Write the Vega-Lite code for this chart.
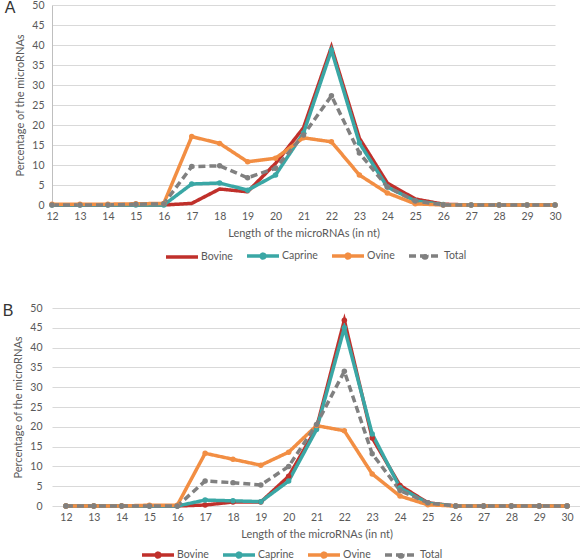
{
  "$schema": "https://vega.github.io/schema/vega-lite/v6.json",
  "padding": {"left": 2, "top": 0, "right": 0, "bottom": 0},
  "spacing": 38,
  "config": {
    "font": "Lato",
    "view": {"stroke": null},
    "axis": {"labelFont": "Lato", "titleFont": "Lato", "labelColor": "#595959", "titleColor": "#595959", "labelFontSize": 10.5, "titleFontSize": 11, "titleFontWeight": "normal", "ticks": false, "gridColor": "#D9D9D9", "gridWidth": 1},
    "legend": {"labelFont": "Lato", "labelColor": "#595959", "labelFontSize": 10.5},
    "title": {"font": "Arial", "fontSize": 16, "fontWeight": "normal", "color": "#333333"}
  },
  "data": {"values": [
    {"p":"A","len":12,"species":"Bovine","pct":0},{"p":"A","len":13,"species":"Bovine","pct":0},{"p":"A","len":14,"species":"Bovine","pct":0},{"p":"A","len":15,"species":"Bovine","pct":0},{"p":"A","len":16,"species":"Bovine","pct":0},{"p":"A","len":17,"species":"Bovine","pct":0.4},{"p":"A","len":18,"species":"Bovine","pct":4},{"p":"A","len":19,"species":"Bovine","pct":3.3},{"p":"A","len":20,"species":"Bovine","pct":10.4},{"p":"A","len":21,"species":"Bovine","pct":19.3},{"p":"A","len":22,"species":"Bovine","pct":39.5},{"p":"A","len":23,"species":"Bovine","pct":16.7},{"p":"A","len":24,"species":"Bovine","pct":5.5},{"p":"A","len":25,"species":"Bovine","pct":1.5},{"p":"A","len":26,"species":"Bovine","pct":0.2},{"p":"A","len":27,"species":"Bovine","pct":0},{"p":"A","len":28,"species":"Bovine","pct":0},{"p":"A","len":29,"species":"Bovine","pct":0},{"p":"A","len":30,"species":"Bovine","pct":0},
    {"p":"A","len":12,"species":"Caprine","pct":0},{"p":"A","len":13,"species":"Caprine","pct":0},{"p":"A","len":14,"species":"Caprine","pct":0},{"p":"A","len":15,"species":"Caprine","pct":0},{"p":"A","len":16,"species":"Caprine","pct":0},{"p":"A","len":17,"species":"Caprine","pct":5.25},{"p":"A","len":18,"species":"Caprine","pct":5.5},{"p":"A","len":19,"species":"Caprine","pct":3.7},{"p":"A","len":20,"species":"Caprine","pct":7.5},{"p":"A","len":21,"species":"Caprine","pct":18},{"p":"A","len":22,"species":"Caprine","pct":38.7},{"p":"A","len":23,"species":"Caprine","pct":15.5},{"p":"A","len":24,"species":"Caprine","pct":4.5},{"p":"A","len":25,"species":"Caprine","pct":1},{"p":"A","len":26,"species":"Caprine","pct":0.1},{"p":"A","len":27,"species":"Caprine","pct":0},{"p":"A","len":28,"species":"Caprine","pct":0},{"p":"A","len":29,"species":"Caprine","pct":0},{"p":"A","len":30,"species":"Caprine","pct":0},
    {"p":"A","len":12,"species":"Ovine","pct":0.2},{"p":"A","len":13,"species":"Ovine","pct":0.2},{"p":"A","len":14,"species":"Ovine","pct":0.2},{"p":"A","len":15,"species":"Ovine","pct":0.3},{"p":"A","len":16,"species":"Ovine","pct":0.4},{"p":"A","len":17,"species":"Ovine","pct":17.1},{"p":"A","len":18,"species":"Ovine","pct":15.4},{"p":"A","len":19,"species":"Ovine","pct":10.8},{"p":"A","len":20,"species":"Ovine","pct":11.7},{"p":"A","len":21,"species":"Ovine","pct":16.8},{"p":"A","len":22,"species":"Ovine","pct":15.8},{"p":"A","len":23,"species":"Ovine","pct":7.5},{"p":"A","len":24,"species":"Ovine","pct":3},{"p":"A","len":25,"species":"Ovine","pct":0.3},{"p":"A","len":26,"species":"Ovine","pct":0},{"p":"A","len":27,"species":"Ovine","pct":0},{"p":"A","len":28,"species":"Ovine","pct":0},{"p":"A","len":29,"species":"Ovine","pct":0},{"p":"A","len":30,"species":"Ovine","pct":0},
    {"p":"A","len":12,"species":"Total","pct":0},{"p":"A","len":13,"species":"Total","pct":0},{"p":"A","len":14,"species":"Total","pct":0},{"p":"A","len":15,"species":"Total","pct":0.2},{"p":"A","len":16,"species":"Total","pct":0.3},{"p":"A","len":17,"species":"Total","pct":9.6},{"p":"A","len":18,"species":"Total","pct":9.8},{"p":"A","len":19,"species":"Total","pct":6.8},{"p":"A","len":20,"species":"Total","pct":9.2},{"p":"A","len":21,"species":"Total","pct":17.5},{"p":"A","len":22,"species":"Total","pct":27.3},{"p":"A","len":23,"species":"Total","pct":13},{"p":"A","len":24,"species":"Total","pct":4.5},{"p":"A","len":25,"species":"Total","pct":1},{"p":"A","len":26,"species":"Total","pct":0},{"p":"A","len":27,"species":"Total","pct":0},{"p":"A","len":28,"species":"Total","pct":0},{"p":"A","len":29,"species":"Total","pct":0},{"p":"A","len":30,"species":"Total","pct":0},
    {"p":"B","len":12,"species":"Bovine","pct":0},{"p":"B","len":13,"species":"Bovine","pct":0},{"p":"B","len":14,"species":"Bovine","pct":0},{"p":"B","len":15,"species":"Bovine","pct":0},{"p":"B","len":16,"species":"Bovine","pct":0},{"p":"B","len":17,"species":"Bovine","pct":0.25},{"p":"B","len":18,"species":"Bovine","pct":1},{"p":"B","len":19,"species":"Bovine","pct":1},{"p":"B","len":20,"species":"Bovine","pct":7.5},{"p":"B","len":21,"species":"Bovine","pct":19.7},{"p":"B","len":22,"species":"Bovine","pct":46.9},{"p":"B","len":23,"species":"Bovine","pct":17.2},{"p":"B","len":24,"species":"Bovine","pct":5.2},{"p":"B","len":25,"species":"Bovine","pct":0.8},{"p":"B","len":26,"species":"Bovine","pct":0},{"p":"B","len":27,"species":"Bovine","pct":0},{"p":"B","len":28,"species":"Bovine","pct":0},{"p":"B","len":29,"species":"Bovine","pct":0},{"p":"B","len":30,"species":"Bovine","pct":0},
    {"p":"B","len":12,"species":"Caprine","pct":0},{"p":"B","len":13,"species":"Caprine","pct":0},{"p":"B","len":14,"species":"Caprine","pct":0},{"p":"B","len":15,"species":"Caprine","pct":0},{"p":"B","len":16,"species":"Caprine","pct":0},{"p":"B","len":17,"species":"Caprine","pct":1.5},{"p":"B","len":18,"species":"Caprine","pct":1.3},{"p":"B","len":19,"species":"Caprine","pct":1.1},{"p":"B","len":20,"species":"Caprine","pct":6.3},{"p":"B","len":21,"species":"Caprine","pct":19.3},{"p":"B","len":22,"species":"Caprine","pct":45},{"p":"B","len":23,"species":"Caprine","pct":18.2},{"p":"B","len":24,"species":"Caprine","pct":4.6},{"p":"B","len":25,"species":"Caprine","pct":0.7},{"p":"B","len":26,"species":"Caprine","pct":0},{"p":"B","len":27,"species":"Caprine","pct":0},{"p":"B","len":28,"species":"Caprine","pct":0},{"p":"B","len":29,"species":"Caprine","pct":0},{"p":"B","len":30,"species":"Caprine","pct":0},
    {"p":"B","len":12,"species":"Ovine","pct":0},{"p":"B","len":13,"species":"Ovine","pct":0},{"p":"B","len":14,"species":"Ovine","pct":0},{"p":"B","len":15,"species":"Ovine","pct":0.2},{"p":"B","len":16,"species":"Ovine","pct":0.2},{"p":"B","len":17,"species":"Ovine","pct":13.3},{"p":"B","len":18,"species":"Ovine","pct":11.8},{"p":"B","len":19,"species":"Ovine","pct":10.3},{"p":"B","len":20,"species":"Ovine","pct":13.6},{"p":"B","len":21,"species":"Ovine","pct":20.3},{"p":"B","len":22,"species":"Ovine","pct":19},{"p":"B","len":23,"species":"Ovine","pct":8.1},{"p":"B","len":24,"species":"Ovine","pct":2.5},{"p":"B","len":25,"species":"Ovine","pct":0.3},{"p":"B","len":26,"species":"Ovine","pct":0},{"p":"B","len":27,"species":"Ovine","pct":0},{"p":"B","len":28,"species":"Ovine","pct":0},{"p":"B","len":29,"species":"Ovine","pct":0},{"p":"B","len":30,"species":"Ovine","pct":0},
    {"p":"B","len":12,"species":"Total","pct":0},{"p":"B","len":13,"species":"Total","pct":0},{"p":"B","len":14,"species":"Total","pct":0},{"p":"B","len":15,"species":"Total","pct":0},{"p":"B","len":16,"species":"Total","pct":0},{"p":"B","len":17,"species":"Total","pct":6.3},{"p":"B","len":18,"species":"Total","pct":5.9},{"p":"B","len":19,"species":"Total","pct":5.3},{"p":"B","len":20,"species":"Total","pct":10},{"p":"B","len":21,"species":"Total","pct":20.6},{"p":"B","len":22,"species":"Total","pct":34},{"p":"B","len":23,"species":"Total","pct":13.2},{"p":"B","len":24,"species":"Total","pct":3.9},{"p":"B","len":25,"species":"Total","pct":0.8},{"p":"B","len":26,"species":"Total","pct":0},{"p":"B","len":27,"species":"Total","pct":0},{"p":"B","len":28,"species":"Total","pct":0},{"p":"B","len":29,"species":"Total","pct":0},{"p":"B","len":30,"species":"Total","pct":0}
  ]},
  "vconcat": [
    {
      "title": {"text": "A", "anchor": "start", "frame": "bounds", "offset": -16, "dx": -10},
      "width": 503,
      "height": 200,
      "transform": [{"filter": "datum.p === 'A'"}],
      "encoding": {
        "x": {"field": "len", "type": "ordinal", "scale": {"type": "point", "padding": 0}, "axis": {"labelAngle": 0, "title": "Length of the microRNAs (in nt)", "domain": false, "labelPadding": 6, "titlePadding": 6}},
        "y": {"field": "pct", "type": "quantitative", "scale": {"domain": [0, 50]}, "axis": {"values": [0,5,10,15,20,25,30,35,40,45,50], "title": "Percentage of the microRNAs", "domain": true, "domainColor": "#BFBFBF", "labelPadding": 8, "titlePadding": 6}},
        "color": {"field": "species", "type": "nominal", "title": null, "scale": {"domain": ["Bovine","Caprine","Ovine","Total"], "range": ["#C0302B","#3AA7A5","#F28E43","#808080"]}, "legend": {"orient": "none", "legendX": 112, "legendY": 241, "direction": "horizontal", "symbolType": "M-2,0H2M0.24,0A0.24,0.24,0,1,1,-0.24,0A0.24,0.24,0,1,1,0.24,0", "symbolSize": 256, "symbolOffset": 8, "symbolStrokeWidth": 3.5, "columnPadding": 7, "labelOffset": 9, "encode": {"symbols": {"update": {"shape": {"signal": "datum.value === 'Bovine' ? 'M-2,0H2' : 'M-2,0H2M0.24,0A0.24,0.24,0,1,1,-0.24,0A0.24,0.24,0,1,1,0.24,0'"}}}}}},
        "strokeDash": {"field": "species", "type": "nominal", "title": null, "scale": {"domain": ["Bovine","Caprine","Ovine","Total"], "range": [[1,0],[1,0],[1,0],[7,4]]}},
        "strokeWidth": {"field": "species", "type": "nominal", "title": null, "scale": {"domain": ["Bovine","Caprine","Ovine","Total"], "range": [3.5,3.5,3.5,2.8]}}
      },
      "layer": [
        {"mark": {"type": "line", "interpolate": "linear"}},
        {"transform": [{"filter": "datum.species !== 'Bovine'"}], "mark": {"type": "circle", "size": 30, "opacity": 1}, "encoding": {"strokeDash": {"value": [1,0]}, "strokeWidth": {"value": 0}}}
      ]
    },
    {
      "title": {"text": "B", "anchor": "start", "frame": "bounds", "offset": -16, "dx": -10},
      "width": 529,
      "height": 198,
      "transform": [{"filter": "datum.p === 'B'"}],
      "encoding": {
        "x": {"field": "len", "type": "ordinal", "scale": {"type": "point", "padding": 0.5}, "axis": {"labelAngle": 0, "title": "Length of the microRNAs (in nt)", "domain": false, "labelPadding": 6, "titlePadding": 6}},
        "y": {"field": "pct", "type": "quantitative", "scale": {"domain": [0, 50]}, "axis": {"values": [0,5,10,15,20,25,30,35,40,45,50], "title": "Percentage of the microRNAs", "domain": false, "labelPadding": 10, "titlePadding": 6}},
        "color": {"field": "species", "type": "nominal", "title": null, "scale": {"domain": ["Bovine","Caprine","Ovine","Total"], "range": ["#C0302B","#3AA7A5","#F28E43","#808080"]}, "legend": {"orient": "none", "legendX": 88, "legendY": 237, "direction": "horizontal", "symbolType": "M-2,0H2M0.24,0A0.24,0.24,0,1,1,-0.24,0A0.24,0.24,0,1,1,0.24,0", "symbolSize": 256, "symbolOffset": 8, "symbolStrokeWidth": 3.5, "columnPadding": 7, "labelOffset": 9}},
        "strokeDash": {"field": "species", "type": "nominal", "title": null, "scale": {"domain": ["Bovine","Caprine","Ovine","Total"], "range": [[1,0],[1,0],[1,0],[7,4]]}},
        "strokeWidth": {"field": "species", "type": "nominal", "title": null, "scale": {"domain": ["Bovine","Caprine","Ovine","Total"], "range": [3.5,3.5,3.5,2.8]}}
      },
      "layer": [
        {"mark": {"type": "line", "interpolate": "linear"}},
        {"mark": {"type": "circle", "size": 30, "opacity": 1}, "encoding": {"strokeDash": {"value": [1,0]}, "strokeWidth": {"value": 0}}}
      ]
    }
  ],
  "resolve": {"scale": {"color": "independent", "strokeDash": "independent", "strokeWidth": "independent"}}
}
